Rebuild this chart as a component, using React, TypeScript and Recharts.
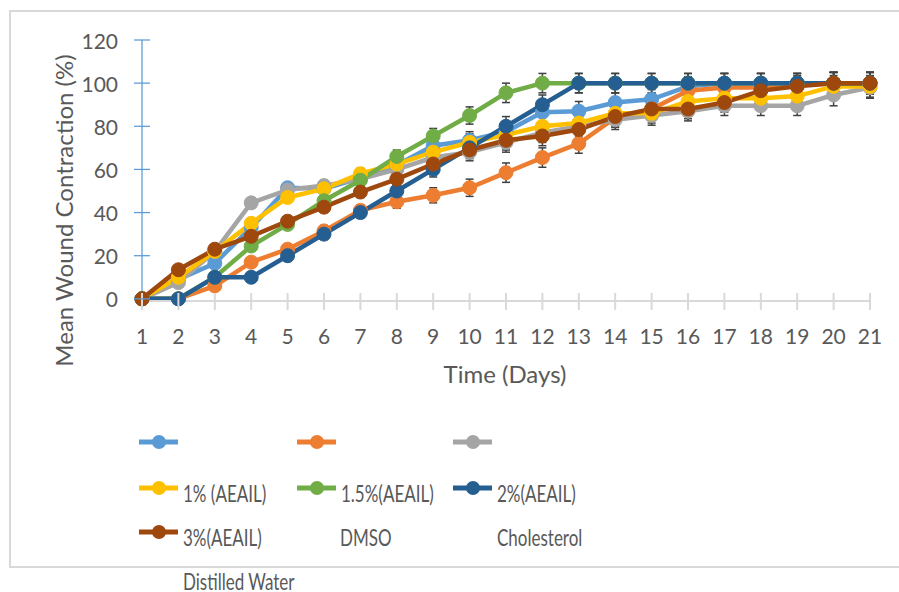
import { LineChart, Line, XAxis, YAxis, ErrorBar, Label } from "recharts";

const days = [1, 2, 3, 4, 5, 6, 7, 8, 9, 10, 11, 12, 13, 14, 15, 16, 17, 18, 19, 20, 21];
const yTicks = [0, 20, 40, 60, 80, 100, 120];

// mean wound contraction (%) per day
const distilledWater = [0, 9, 16.5, 33, 51.5, 51, 56, 62, 71, 73.5, 77.5, 86.5, 87, 91, 92.5, 98.5, 100, 100, 100, 100, 100];
const dmso = [0, 0, 6, 17, 23, 31.5, 41, 45, 48, 51.5, 58.5, 65.5, 72, 84, 88, 96.5, 98, 98, 99, 100, 100];
const cholesterol = [0, 7.5, 22, 44.5, 50.5, 52.5, 55.5, 60, 65.5, 68, 72.5, 77, 80, 83, 85, 87, 89.5, 89.5, 89.5, 94.5, 98];
const aeail1 = [0, 10, 22, 35, 47, 51, 58, 62.5, 68, 72.5, 76, 80, 81.5, 86, 86, 91.5, 93, 93, 94, 98.5, 98.5];
const aeail15 = [0, 0, 10, 24.5, 34.5, 45.5, 55, 66, 75.5, 85, 95.5, 100, 100, 100, 100, 100, 100, 100, 100, 100, 100];
const aeail2 = [0, 0, 10, 10, 20, 30, 40, 50, 60, 70, 80, 90, 100, 100, 100, 100, 100, 100, 100, 100, 100];
const aeail3 = [0, 13.5, 23, 29, 36, 42.5, 49.5, 55.5, 62.5, 69, 73.5, 75.5, 78.5, 84.5, 88, 88, 91, 96.5, 98.5, 100, 100];
// standard error per day
const sem = [0, 1, 1.5, 2, 2, 2.5, 2.5, 3, 3.5, 4, 4.5, 4.5, 4.5, 4.5, 4.5, 4.5, 4.5, 4.5, 4.5, 5, 5];

const series = [
  { key: "dw", name: "", color: "#5B9BD5", values: distilledWater },
  { key: "dmso", name: "", color: "#ED7D31", values: dmso },
  { key: "chol", name: "", color: "#A5A5A5", values: cholesterol },
  { key: "a1", name: "1% (AEAIL)", color: "#FFC000", values: aeail1 },
  { key: "a15", name: "1.5%(AEAIL)", color: "#70AD47", values: aeail15 },
  { key: "a2", name: "2%(AEAIL)", color: "#255E91", values: aeail2 },
  { key: "a3", name: "3%(AEAIL)", color: "#9E480E", values: aeail3 },
];

const data = days.map((d, i) => {
  const row: Record<string, number> = { day: d, sem: sem[i] };
  series.forEach((s) => (row[s.key] = s.values[i]));
  return row;
});

const FONT = "Lato, Carlito, 'Open Sans', sans-serif";
const TEXT = "#595959";

const YTick = ({ x, y, payload }: any) => (
  <g>
    <line x1={x - 8} x2={x + 8} y1={y} y2={y} stroke="#5B9BD5" strokeWidth={1.25} />
    <text x={x - 24} y={y} textAnchor="end" dominantBaseline="central" fill={TEXT} fontSize={21} fontFamily={FONT}>
      {payload.value}
    </text>
  </g>
);

const XTick = ({ x, y, payload }: any) => (
  <g>
    <line x1={x} x2={x} y1={y - 8} y2={y + 9} stroke="#D9D9D9" strokeWidth={2} />
    <text x={x} y={y + 34} textAnchor="middle" dominantBaseline="central" fill={TEXT} fontSize={21} fontFamily={FONT}>
      {payload.value}
    </text>
  </g>
);

const Swatch = ({ color }: { color: string }) => (
  <svg width={40} height={16} style={{ display: "block" }}>
    <line x1={0} x2={39} y1={8} y2={8} stroke={color} strokeWidth={5} />
    <circle cx={20} cy={8} r={7} fill={color} />
  </svg>
);

// legend cells as drawn in the original (labels shifted)
const legendCols = [139, 297, 453];
const legendRows = [442, 488, 532];

export default function App() {
  const textStyle = (left: number, top: number) => ({
    position: "absolute" as const,
    left,
    top: top - 12,
    height: 24,
    lineHeight: "24px",
    fontSize: 17,
    fontFamily: FONT,
    color: TEXT,
    whiteSpace: "nowrap" as const,
    transform: "scaleY(1.3)",
    transformOrigin: "left center",
  });

  return (
    <div style={{ position: "absolute", left: 0, top: 0, width: 899, height: 592, overflow: "hidden", background: "#fff" }}>
      <div
        style={{
          position: "absolute",
          left: 9,
          top: 10,
          width: 900,
          height: 554,
          borderTop: "2px solid #D9D9D9",
          borderLeft: "2px solid #D9D9D9",
          borderBottom: "2px solid #D9D9D9",
        }}
      />
      <div style={{ position: "absolute", left: 0, top: 0 }}>
        <LineChart width={899} height={592} data={data} margin={{ top: 40, right: 29, left: 0, bottom: 0 }}>
          <XAxis
            dataKey="day"
            height={291}
            axisLine={{ stroke: "#D9D9D9", strokeWidth: 2 }}
            tickLine={false}
            tickSize={0}
            tickMargin={0}
            tick={<XTick />}
            interval={0}
          >
            <Label
              content={({ viewBox }: any) => (
                <text
                  x={viewBox.x + viewBox.width / 2 - 1}
                  y={viewBox.y + 72}
                  textAnchor="middle"
                  dominantBaseline="central"
                  fill={TEXT}
                  fontSize={24}
                  fontFamily={FONT}
                >
                  Time (Days)
                </text>
              )}
            />
          </XAxis>
          <YAxis
            width={142}
            domain={[0, 120]}
            ticks={yTicks}
            interval={0}
            axisLine={{ stroke: "#5B9BD5", strokeWidth: 1.25 }}
            tickLine={false}
            tickSize={0}
            tickMargin={0}
            tick={<YTick />}
          >
            <Label
              content={({ viewBox }: any) => {
                const cx = viewBox.x + 63;
                const cy = viewBox.y + viewBox.height / 2 + 40;
                return (
                  <text
                    x={cx}
                    y={cy}
                    transform={`rotate(-90 ${cx} ${cy})`}
                    textAnchor="middle"
                    dominantBaseline="central"
                    fill={TEXT}
                    fontSize={24}
                    fontFamily={FONT}
                  >
                    Mean Wound Contraction (%)
                  </text>
                );
              }}
            />
          </YAxis>
          {series.map((s) => (
            <Line
              key={s.key}
              dataKey={s.key}
              stroke={s.color}
              strokeWidth={4.5}
              dot={{ r: 7, fill: s.color, stroke: s.color, strokeWidth: 1 }}
              activeDot={false}
              isAnimationActive={false}
            >
              <ErrorBar dataKey="sem" direction="y" width={4} stroke="#404040" strokeWidth={1.5} />
            </Line>
          ))}
        </LineChart>
      </div>

      {/* legend */}
      {series.map((s, i) => {
        const col = legendCols[i % 3];
        const row = legendRows[Math.floor(i / 3)];
        return (
          <div key={s.key}>
            <div style={{ position: "absolute", left: col, top: row - 8 }}>
              <Swatch color={s.color} />
            </div>
            {s.name && <div style={textStyle(col + 44, row + 6)}>{s.name}</div>}
          </div>
        );
      })}
      <div style={textStyle(340, 538)}>DMSO</div>
      <div style={textStyle(497, 538)}>Cholesterol</div>
      <div style={textStyle(183, 582)}>Distilled Water</div>
    </div>
  );
}
